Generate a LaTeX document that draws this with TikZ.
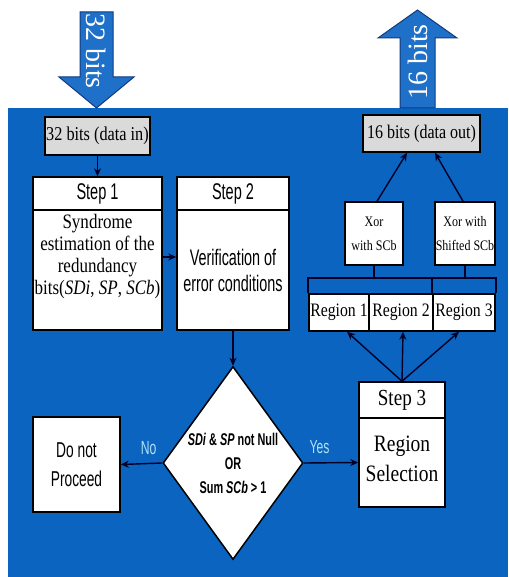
\documentclass[tikz,border=0pt]{standalone}
\usepackage{fontspec}
\setmainfont{Liberation Serif}
\newfontfamily\nsans[FakeStretch=0.64]{Liberation Sans}
\newfontfamily\nserif[FakeStretch=0.83]{Liberation Serif}
\newfontfamily\plainserif{Liberation Serif}
\usetikzlibrary{shapes.geometric,arrows.meta}
\definecolor{bgblue}{RGB}{10,100,192}
\definecolor{arrfill}{RGB}{30,112,200}
\definecolor{arrdraw}{RGB}{20,58,125}
\definecolor{lblcyan}{RGB}{175,228,248}
\definecolor{boxgray}{RGB}{218,218,218}
\begin{document}
\begin{tikzpicture}[x=1pt,y=-1pt,
  box/.style={draw=black, line width=1.5pt, fill=white, inner sep=0pt, align=center},
  arr/.style={line width=1.4pt, draw=black!85!blue, -{Stealth[length=8pt,width=7pt]}},
  ln/.style={line width=1.6pt, draw=black!85!blue},
  bigarrow/.style={fill=arrfill, draw=arrdraw, line width=1pt, line join=miter},
  txt/.style={inner sep=0pt, align=center},
  yn/.style={text=lblcyan, font=\nsans\fontsize{19}{21}\selectfont, inner sep=0pt}]
\useasboundingbox (0,0) rectangle (508,577);
% background panel
\fill[bgblue] (8,108) rectangle (508,577);
% input big arrow
\draw[bigarrow] (80,12) -- (113,12) -- (113,77) -- (134,77) -- (96.5,108) -- (59,77) -- (80,77) -- cycle;
\node[txt, rotate=-90, text=white, font=\plainserif\fontsize{28}{30}\selectfont] (inlbl) at (96.5,51) {32 bits};
% output big arrow
\draw[bigarrow] (400,108) -- (435,108) -- (435,38) -- (457,38) -- (417.5,10) -- (378,38) -- (400,38) -- cycle;
\node[txt, rotate=90, text=white, font=\plainserif\fontsize{28}{30}\selectfont] (outlbl) at (417.5,62) {16 bits};
% data in
\node[box, fill=boxgray, minimum width=105pt, minimum height=38pt, font=\nserif\fontsize{19.6}{22}\selectfont] (din) at (97.5,136) {32 bits (data in)};
% Step 1
\node[box, minimum width=129pt, minimum height=33pt, font=\nsans\fontsize{22.7}{25}\selectfont] (s1t) at (97.5,193.5) {Step 1};
\node[box, minimum width=129pt, minimum height=120pt] (s1b) at (97.5,270) {};
\node[txt, font=\nserif\fontsize{20.5}{22}\selectfont] (s1txt) at (97.5,257) {Syndrome\\estimation of the\\redundancy\\bits(\textit{SDi}, \textit{SP}, \textit{SCb})};
% Step 2
\node[box, minimum width=112pt, minimum height=33pt, font=\nsans\fontsize{22.7}{25}\selectfont] (s2t) at (233,193.5) {Step 2};
\node[box, minimum width=112pt, minimum height=120pt] (s2b) at (233,270) {};
\node[txt, font=\nsans\fontsize{22.5}{26}\selectfont] (s2txt) at (233,270) {Verification of\\error conditions};
% decision diamond
\node[draw=black, line width=1.5pt, fill=white, shape=diamond, aspect=0.725, minimum width=140pt, minimum height=193pt, inner sep=0pt] (dec) at (233,463) {};
\node[txt, font=\nsans\bfseries\fontsize{17}{24}\selectfont] (dectxt) at (233,463) {\textit{SDi} \& \textit{SP} not Null\\OR\\Sum \textit{SCb} > 1};
% Do not proceed
\node[box, minimum width=87pt, minimum height=95pt, font=\nsans\fontsize{21.5}{29}\selectfont] (dnp) at (76.5,464.5) {Do not\\Proceed};
% Step 3
\node[box, minimum width=86pt, minimum height=36pt, font=\nserif\fontsize{23}{25}\selectfont] (s3t) at (402,400) {Step 3};
\node[box, minimum width=86pt, minimum height=89pt] (s3b) at (402,462.5) {};
\node[txt, font=\nserif\fontsize{23.5}{30}\selectfont] (s3txt) at (402,459) {Region\\Selection};
% regions
\node[box, minimum width=60pt, minimum height=37pt, font=\nserif\fontsize{19}{21}\selectfont] (r1) at (339,312.5) {Region 1};
\node[box, minimum width=64pt, minimum height=37pt, font=\nserif\fontsize{19}{21}\selectfont] (r2) at (401,312.5) {Region 2};
\node[box, minimum width=62pt, minimum height=37pt, font=\nserif\fontsize{19}{21}\selectfont] (r3) at (464,312.5) {Region 3};
% xor boxes
\node[box, minimum width=58pt, minimum height=63pt, font=\nserif\fontsize{14.5}{24}\selectfont] (xor1) at (374,233.5) {Xor\\with SCb};
\node[box, minimum width=60pt, minimum height=63pt, font=\nserif\fontsize{14.5}{24}\selectfont] (xor2) at (465,233.5) {Xor with\\Shifted SCb};
% data out
\node[box, fill=boxgray, minimum width=117pt, minimum height=37pt, font=\nserif\fontsize{19.3}{22}\selectfont] (dout) at (421.5,133.5) {16 bits (data out)};
% bracket above regions
\draw[ln] (r1.north west) -- ++(0,-15) coordinate (brL) -- (brL -| r3.north east) coordinate (brR) -- (r3.north east);
\draw[ln] (brL -| r3.north west) -- (r3.north west);
\draw[ln] (xor1.south) -- (xor1.south |- brL);
\draw[ln] (xor2.south) -- (xor2.south |- brL);
% connectors
\draw[arr] (din.south) -- (s1t.north);
\draw[arr] ([yshift=13pt]s1b.east) -- ([yshift=13pt]s2b.west);
\draw[arr] (s2b.south) -- (dec.north);
\draw[arr] (dec.west) -- (dnp.east) node[pos=0.33, above=8pt, yn] (nolbl) {No};
\draw[arr] (dec.east) -- (s3b.west) node[pos=0.29, above=8pt, yn] (yeslbl) {Yes};
\draw[arr] (s3t.north) -- ([xshift=8pt]r1.south);
\draw[arr] (s3t.north) -- ([xshift=2pt]r2.south);
\draw[arr] (s3t.north) -- ([xshift=-5pt]r3.south);
\draw[arr] ([xshift=3pt]xor1.north) -- ([xshift=-14.5pt]dout.south);
\draw[arr] ([xshift=-2pt]xor2.north) -- ([xshift=13.5pt]dout.south);
\end{tikzpicture}
\end{document}
